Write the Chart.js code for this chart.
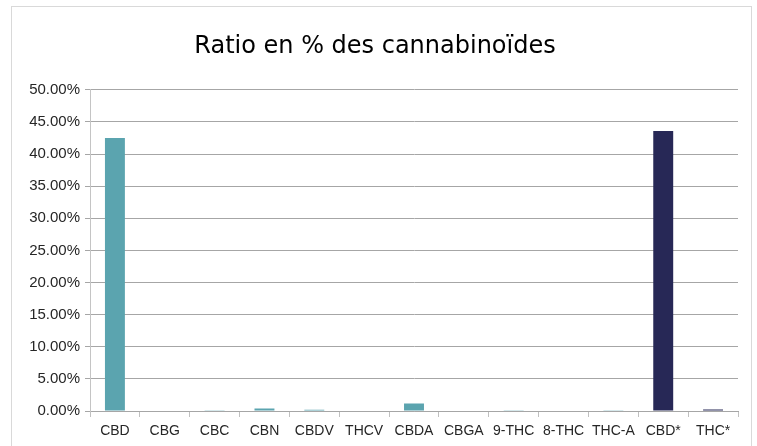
<!DOCTYPE html>
<html>
<head>
<meta charset="utf-8">
<script src="https://cdn.jsdelivr.net/npm/chart.js@4/dist/chart.umd.min.js"></script>
<style>
  html, body { margin: 0; padding: 0; background: #fff; }
  #wrap { position: relative; width: 757px; height: 446px; overflow: hidden; }
  #frame { position: absolute; left: 11px; top: 6px; width: 739px; height: 460px; border: 1px solid #d9d9d9; }
  canvas { position: absolute; left: 0; top: 0; }
</style>
</head>
<body>
<div id="wrap">
  <div id="frame"></div>
  <canvas id="chart" width="757" height="446"></canvas>
</div>
<script>
// categories and values (percent)
var labels = ["CBD", "CBG", "CBC", "CBN", "CBDV", "THCV", "CBDA", "CBGA", "9-THC", "8-THC", "THC-A", "CBD*", "THC*"];
var measured = [42.5, 0, 0.05, 0.37, 0.2, 0, 1.15, 0, 0.05, 0, 0.05, null, null];
var starred = [null, null, null, null, null, null, null, null, null, null, null, 43.6, 0.22];
var yTicks = [0, 5, 10, 15, 20, 25, 30, 35, 40, 45, 50];

var ctx = document.getElementById("chart").getContext("2d");
var chart = new Chart(ctx, {
  type: "bar",
  data: {
    labels: labels,
    datasets: [
      { label: "ratio", data: measured, backgroundColor: "#5ba4af" },
      { label: "ratio *", data: starred, backgroundColor: "#272856" }
    ]
  },
  options: {
    responsive: false,
    animation: false,
    layout: { padding: { left: 12, right: 19, top: 0, bottom: 0 } },
    datasets: { bar: { categoryPercentage: 0.8, barPercentage: 0.5 } },
    plugins: {
      legend: { display: false },
      tooltip: { enabled: false },
      title: {
        display: true,
        text: "Ratio en % des cannabinoïdes",
        color: "#000",
        font: { family: "'DejaVu Sans', Arial", size: 24, weight: "normal" },
        padding: { top: 32, bottom: 29 }
      }
    },
    scales: {
      x: {
        stacked: true,
        offset: true,
        grid: { offset: true, drawOnChartArea: false, drawTicks: true, tickLength: 6, color: "#c0c0c0" },
        border: { color: "#a6a6a6", width: 1 },
        ticks: { color: "#262626", padding: 6, maxRotation: 0, autoSkip: false,
          font: { family: "'Liberation Sans', Arial", size: 14 } },
        afterFit: function (scale) { scale.height = 35; }
      },
      y: {
        stacked: true,
        min: 0,
        max: 50,
        afterBuildTicks: function (scale) {
          scale.ticks = yTicks.map(function (v) { return { value: v }; });
        },
        grid: { color: "#a6a6a6", tickLength: 5 },
        border: { color: "#c4c4c4", width: 1 },
        ticks: {
          color: "#262626",
          padding: 5,
          font: { family: "'Liberation Sans', Arial", size: 15 },
          callback: function (v) { return v.toFixed(2) + "%"; }
        },
        afterFit: function (scale) { scale.width = 78; }
      }
    }
  }
});
</script>
</body>
</html>
